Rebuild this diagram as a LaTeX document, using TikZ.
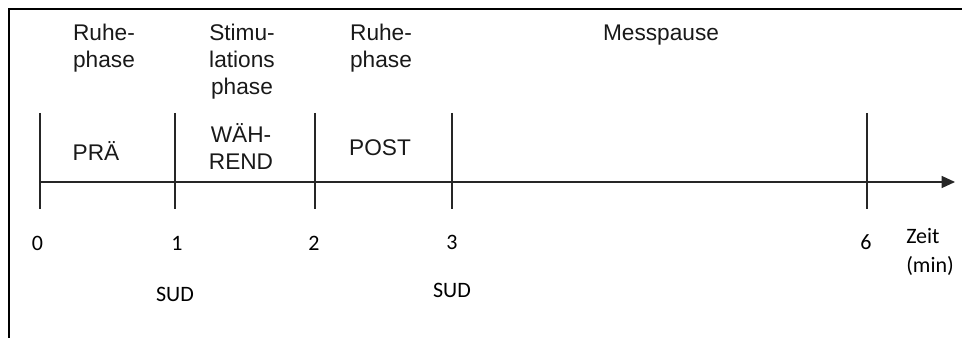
\documentclass[tikz,border=0pt]{standalone}
\usepackage{fontspec}
\setmainfont{Liberation Sans}
\newfontfamily\calib{Carlito}
\usetikzlibrary{arrows.meta}
\begin{document}
\begin{tikzpicture}[x=0.75pt,y=-0.75pt,
  frame/.style={line width=1.4pt,black},
  axisline/.style={line width=0.9pt,black!85},
  tickline/.style={line width=0.9pt,black!85},
  phase/.style={inner sep=0pt,align=center,font=\fontsize{17}{20.25}\selectfont,text=black!90},
  num/.style={inner sep=0pt,font=\calib\fontsize{16.5}{20}\selectfont,text=black}]
\useasboundingbox (0,0) rectangle (962,338);
\coordinate (fl) at (9,338);
\coordinate (fc) at (9,9);
\coordinate (fr) at (962,9);
\draw[frame] (fl) -- (fc) -- (fr);
% axis
\coordinate (a0) at (40,182);
\coordinate (aend) at (955,182);
\draw[axisline,-{Triangle[length=10pt,width=9pt]}] (a0) -- (aend);
% ticks
\foreach \n/\x in {0/40,1/175,2/315,3/452,6/867}{
  \coordinate (t\n a) at (\x,113);
  \coordinate (t\n b) at (\x,209);
  \draw[tickline] (t\n a) -- (t\n b);
}
% top labels
\node[phase] (ruhe1) at (104,48.5) {Ruhe-\\phase};
\node[phase] (stim) at (242,62) {Stimu-\\lations\\phase};
\node[phase] (ruhe2) at (381,48.5) {Ruhe-\\phase};
\node[phase] (mess) at (661,35) {Messpause};
\node[phase] (pre) at (96,151) {PRÄ};
\node[phase] (wae) at (241,147) {WÄH-\\REND};
\node[phase] (post) at (380,148) {POST};
% numbers
\node[num] (n0) at (37.5,243) {0};
\node[num] (n1) at (177,243) {1};
\node[num] (n2) at (314,243) {2};
\node[num] (n3) at (452,242) {3};
\node[num] (n6) at (866,242) {6};
\node[num,align=left,anchor=west,font=\calib\fontsize{16.5}{22}\selectfont] (zeit) at (906,252) {Zeit\\(min)};
\node[num] (sud1) at (175,294) {SUD};
\node[num] (sud2) at (452,290) {SUD};
\end{tikzpicture}
\end{document}
